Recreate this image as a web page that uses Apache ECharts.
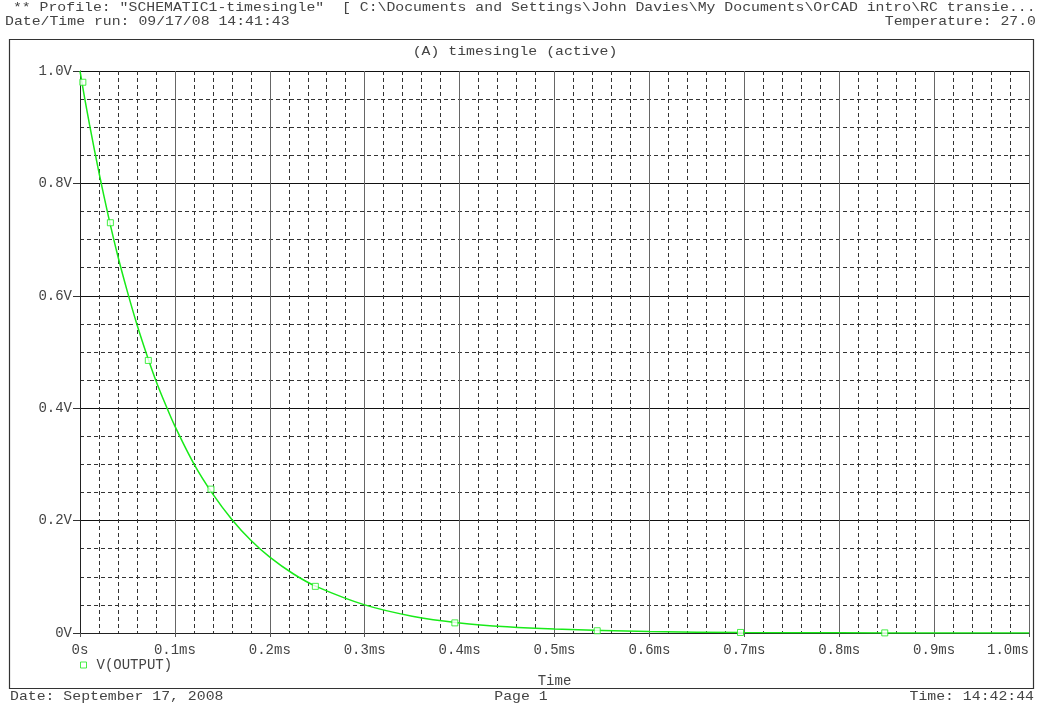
<!DOCTYPE html>
<html>
<head>
<meta charset="utf-8">
<title>timesingle</title>
<script src="https://cdn.jsdelivr.net/npm/echarts@6/dist/echarts.min.js"></script>
<style>
  html, body { margin: 0; padding: 0; background: #fff; }
  #chart { width: 1039px; height: 704px; }
</style>
</head>
<body>
<div id="chart"></div>
<script>
// values (time in ms, volts)
const timeMs = [0, 0.005, 0.01, 0.02, 0.03, 0.04, 0.05, 0.06, 0.07, 0.08, 0.09, 0.1,
  0.12, 0.14, 0.16, 0.18, 0.2, 0.225, 0.25, 0.3, 0.35, 0.4, 0.45, 0.5, 0.6, 0.7, 0.8, 0.9, 1.0];
const voltage = [1.0, 0.951, 0.905, 0.819, 0.741, 0.670, 0.607, 0.549, 0.497, 0.449, 0.407, 0.368,
  0.301, 0.247, 0.202, 0.165, 0.135, 0.105, 0.082, 0.050, 0.030, 0.018, 0.011, 0.007, 0.0025, 0.001, 0.0003, 0.0001, 0.0];

// marker squares drawn by the probe on the trace
const markerTime = [0.003, 0.032, 0.072, 0.138, 0.248, 0.395, 0.545, 0.696, 0.848];
const markerVolt = [0.98, 0.73, 0.485, 0.256, 0.083, 0.018, 0.004, 0.001, 0.0002];

const xTickLabels = ['0s', '0.1ms', '0.2ms', '0.3ms', '0.4ms', '0.5ms', '0.6ms', '0.7ms', '0.8ms', '0.9ms', '1.0ms'];
const yTickLabels = ['0V', '0.2V', '0.4V', '0.6V', '0.8V', '1.0V'];

const seriesName = 'V(OUTPUT)';
const green = '#18ea18';
const textColor = '#444';
const mono = '"Liberation Mono", "DejaVu Sans Mono", monospace';

const chart = echarts.init(document.getElementById('chart'));

function label(text, x, y, align) {
  return {
    type: 'text',
    x: x,
    y: y,
    scaleX: 1.14,
    style: {
      text: text,
      font: '13px ' + mono,
      fill: textColor,
      textAlign: align || 'left',
      textVerticalAlign: 'middle'
    }
  };
}

const option = {
  backgroundColor: '#fff',
  animation: false,
  textStyle: { fontFamily: mono },
  grid: { left: 80, top: 71, right: 10, bottom: 71, containLabel: false, outerBoundsMode: 'none' },
  legend: {
    data: [seriesName],
    left: 75,
    top: 653,
    icon: 'rect',
    itemWidth: 6,
    itemHeight: 6,
    itemGap: 10,
    itemStyle: { color: '#fff', borderColor: green, borderWidth: 1 },
    textStyle: { fontFamily: mono, fontSize: 14, color: textColor, padding: [0, 0, 0, 5] }
  },
  xAxis: {
    type: 'value',
    min: 0,
    max: 1,
    interval: 0.1,
    name: 'Time',
    nameLocation: 'middle',
    nameGap: 41,
    nameTextStyle: { fontFamily: mono, fontSize: 14, color: textColor },
    axisLine: { show: true, lineStyle: { color: '#222', width: 1 } },
    axisTick: { show: true, length: 4, lineStyle: { color: '#555' } },
    axisLabel: {
      fontFamily: mono,
      fontSize: 14,
      color: textColor,
      margin: 10,
      alignMaxLabel: 'right',
      formatter: v => xTickLabels[Math.round(v * 10)]
    },
    splitLine: { show: true, lineStyle: { color: '#666', width: 1 } },
    minorTick: { show: false, splitNumber: 5 },
    minorSplitLine: { show: true, lineStyle: { color: '#333', type: [4, 3], width: 1 } }
  },
  yAxis: {
    type: 'value',
    min: 0,
    max: 1,
    interval: 0.2,
    axisLine: { show: true, lineStyle: { color: '#222', width: 1 } },
    axisTick: { show: true, length: 7, lineStyle: { color: '#333' } },
    axisLabel: {
      fontFamily: mono,
      fontSize: 14,
      color: textColor,
      margin: 8,
      formatter: v => yTickLabels[Math.round(v * 5)]
    },
    splitLine: { show: true, lineStyle: { color: '#111', width: 1 } },
    minorTick: { show: false, splitNumber: 4 },
    minorSplitLine: { show: true, lineStyle: { color: '#333', type: [4, 3], width: 1 } }
  },
  series: [
    {
      name: 'trace',
      type: 'line',
      data: timeMs.map((t, i) => [t, voltage[i]]),
      smooth: 0.3,
      symbol: 'none',
      lineStyle: { color: green, width: 1.5 },
      z: 3
    },
    {
      name: seriesName,
      type: 'scatter',
      data: markerTime.map((t, i) => [t, markerVolt[i]]),
      symbol: 'rect',
      symbolSize: 6,
      itemStyle: { color: '#fff', borderColor: green, borderWidth: 1 },
      z: 4
    }
  ],
  graphic: [
    {
      type: 'rect',
      shape: { x: 9.5, y: 39.5, width: 1024, height: 649 },
      style: { fill: 'none', stroke: '#333', lineWidth: 1.2 },
      silent: true
    },
    label(' ** Profile: "SCHEMATIC1-timesingle"  [ C:\\Documents and Settings\\John Davies\\My Documents\\OrCAD intro\\RC transie...', 4, 8),
    label('Date/Time run: 09/17/08 14:41:43', 5, 22),
    label('Temperature: 27.0', 1036, 22, 'right'),
    label('(A) timesingle (active)', 515, 52, 'center'),
    label('Date: September 17, 2008', 10, 697),
    label('Page 1', 521, 697, 'center'),
    label('Time: 14:42:44', 1034, 697, 'right')
  ]
};

chart.setOption(option);
</script>
</body>
</html>
